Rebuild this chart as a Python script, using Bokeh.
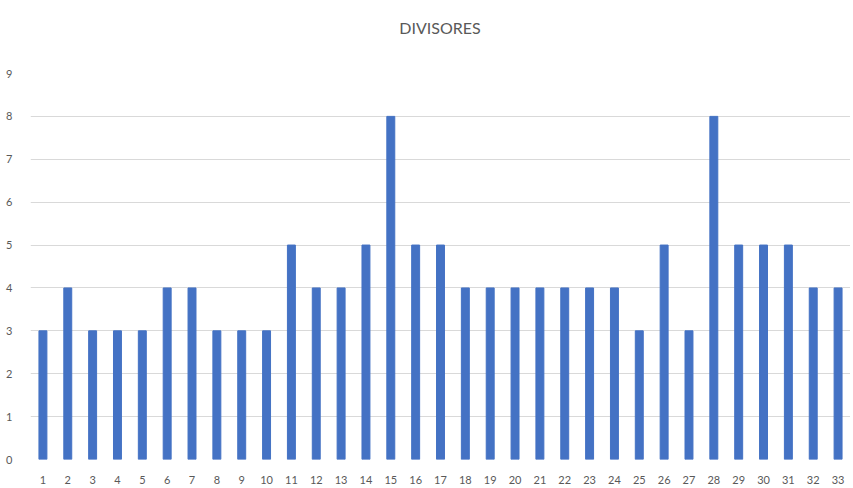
from bokeh.plotting import figure
from bokeh.models import FactorRange, Range1d, FixedTicker, ColumnDataSource, Div
from bokeh.layouts import column
from bokeh.embed import file_html
from bokeh.resources import INLINE

titulo = "DIVISORES"
numeros = [str(i) for i in range(1, 34)]
divisores = [3, 4, 3, 3, 3, 4, 4, 3, 3, 3, 5, 4, 4, 5, 8, 5, 5, 4, 4, 4, 4, 4, 4, 4, 3, 5, 3, 8, 5, 5, 5, 4, 4]
y_ticks = list(range(0, 10))

source = ColumnDataSource(dict(x=numeros, y=divisores))

fig = figure(width=850, height=431, x_range=FactorRange(factors=numeros, range_padding=0),
             y_range=Range1d(0, 9), output_backend="svg", toolbar_location=None,
             min_border_left=30, min_border_right=0,
             min_border_top=18, min_border_bottom=25)
fig.vbar(x="x", top="y", width=0.32, source=source, color="#4472C4")

fig.outline_line_color = None
fig.xgrid.grid_line_color = None
fig.ygrid.grid_line_color = "#d9d9d9"
fig.yaxis.ticker = FixedTicker(ticks=y_ticks)
for ax in (fig.xaxis, fig.yaxis):
    ax.axis_line_color = None
    ax.major_tick_line_color = None
    ax.minor_tick_line_color = None
    ax.major_label_text_color = "#595959"
    ax.major_label_text_font = "Lato"
    ax.major_label_text_font_size = "11px"
fig.xaxis.major_label_standoff = 10
fig.yaxis.major_label_standoff = 12

header = Div(text=('<div style="width:820px;text-align:center;font-family:Lato;font-size:16px;'
                   'color:#595959;padding-top:18px;line-height:19px">' + titulo + '</div>'),
             width=820, height=55, margin=(0, 0, 0, 30))

p = column(header, fig, spacing=0)

open("out.html", "w").write(file_html(p, INLINE))
